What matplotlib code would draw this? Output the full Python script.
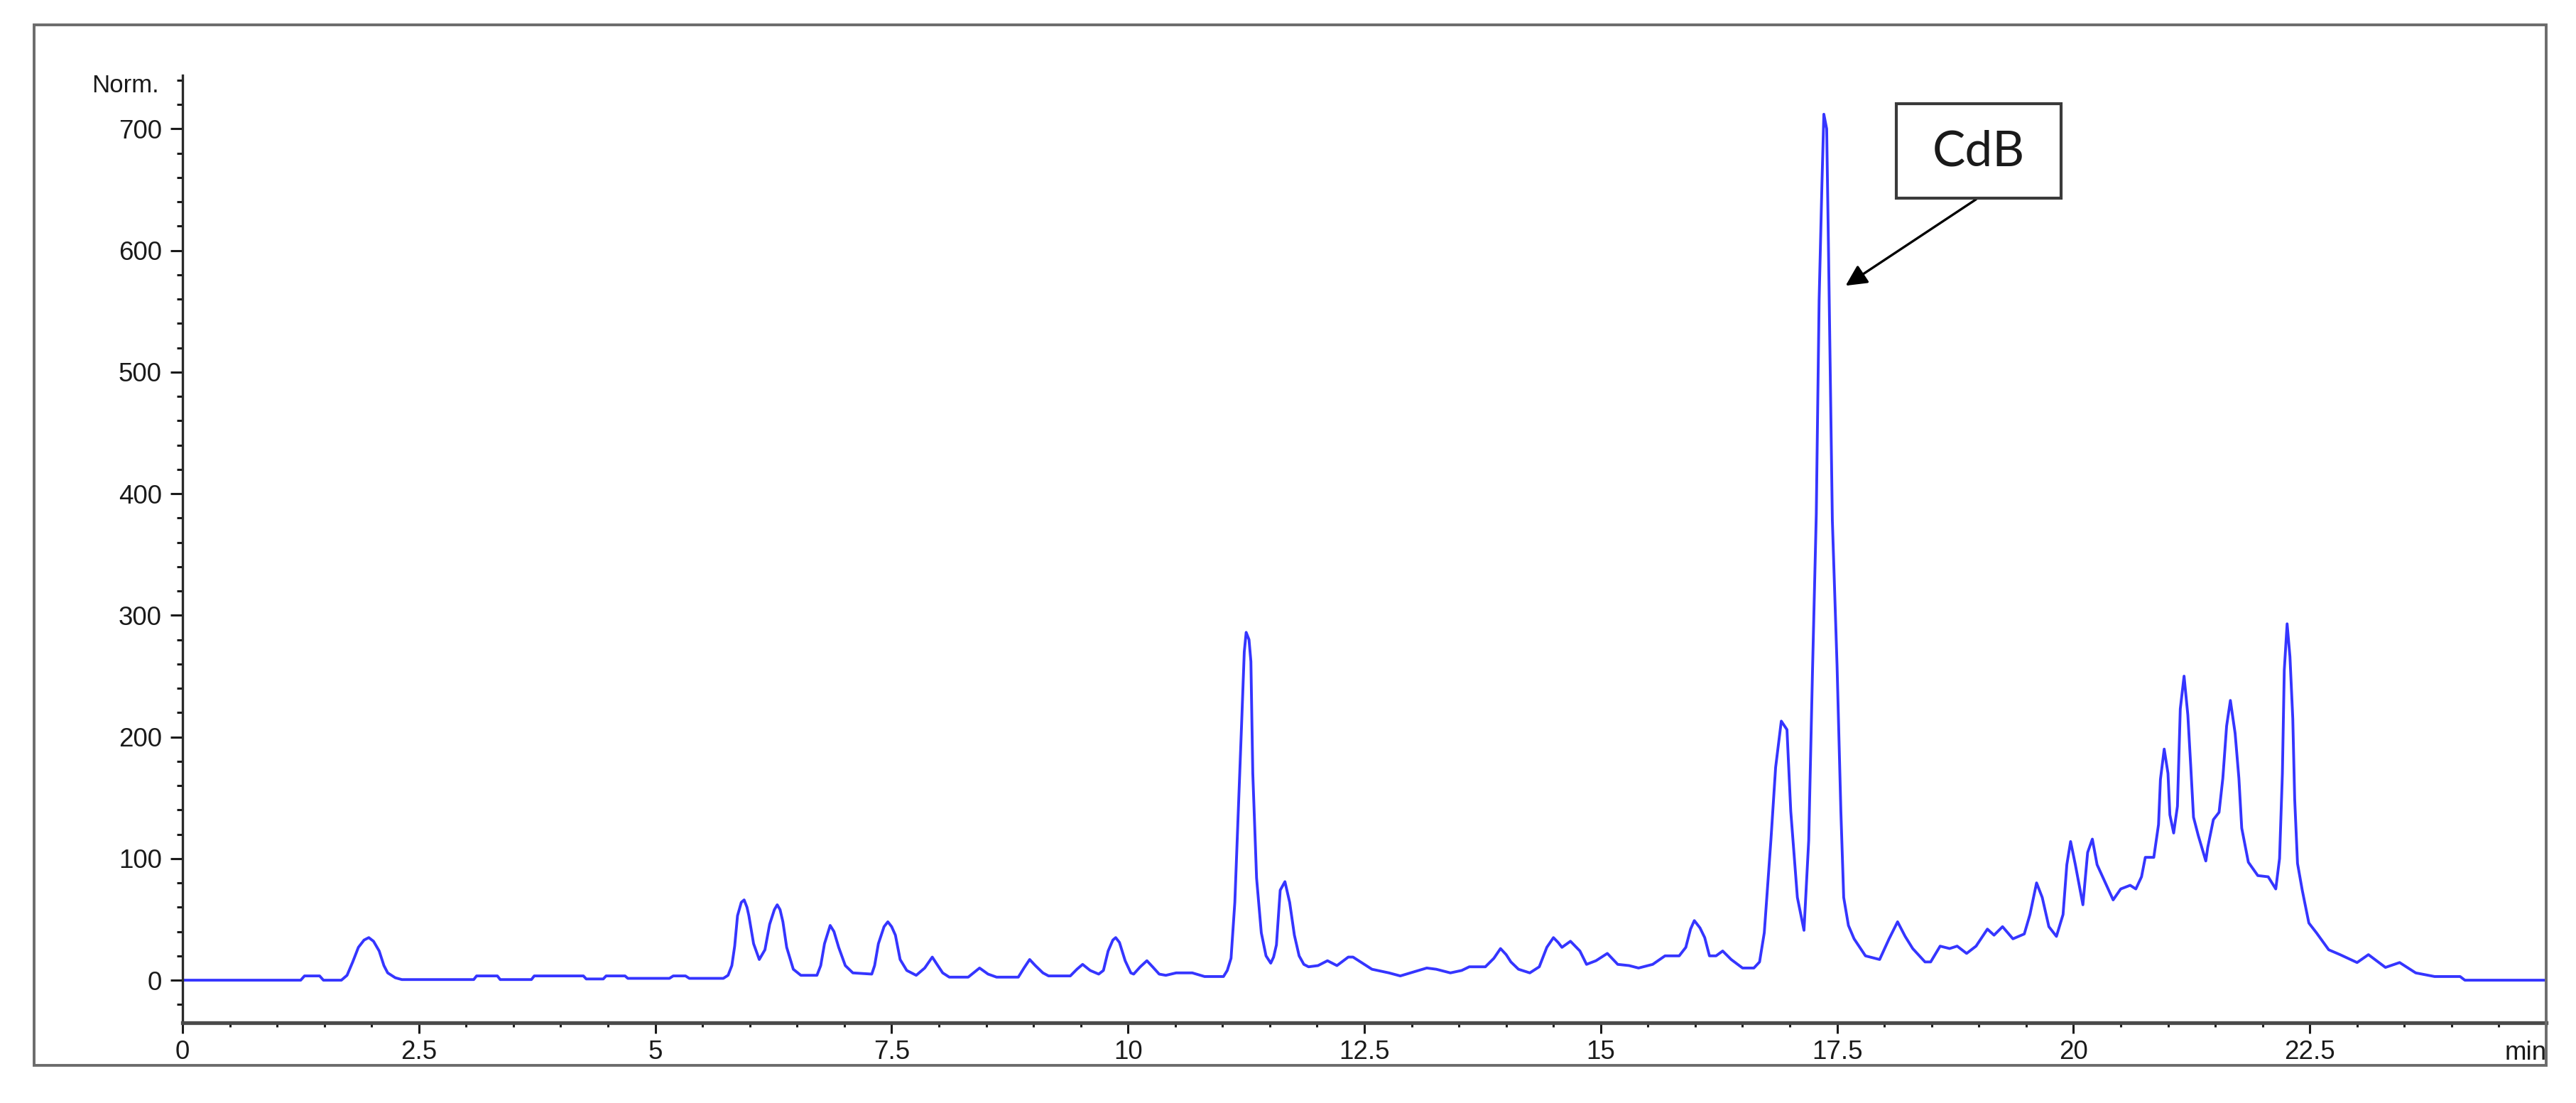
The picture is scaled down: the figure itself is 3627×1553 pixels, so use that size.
import matplotlib.pyplot as plt
from matplotlib.patches import Rectangle
from matplotlib.ticker import MultipleLocator

# retention time (min) and detector signal (Norm.)
retention_min = [
    0.00, 1.25, 1.29, 1.45, 1.49, 1.68, 1.74, 1.80, 1.86, 1.92, 1.97, 2.02, 2.08, 2.13, 2.17, 2.25, 2.32,
    3.08, 3.11, 3.33, 3.36, 3.69, 3.72, 4.24, 4.27, 4.45, 4.48, 4.68, 4.71, 5.15, 5.19, 5.32, 5.36,
    5.72, 5.77, 5.81, 5.84, 5.87, 5.91, 5.94, 5.97, 5.99, 6.04, 6.10, 6.16, 6.21, 6.26, 6.29, 6.32,
    6.35, 6.39, 6.46, 6.54, 6.71, 6.75, 6.79, 6.85, 6.89, 6.94, 7.01, 7.09, 7.29, 7.32, 7.36, 7.42,
    7.46, 7.50, 7.54, 7.59, 7.66, 7.76, 7.85, 7.93, 7.98, 8.04, 8.11, 8.31, 8.43, 8.52, 8.61, 8.84,
    8.90, 8.96, 9.02, 9.10, 9.16, 9.39, 9.46, 9.52, 9.60, 9.69, 9.74, 9.79, 9.84, 9.87, 9.91, 9.97,
    10.03, 10.06, 10.13, 10.20, 10.26, 10.33, 10.40, 10.51, 10.68, 10.81, 11.01, 11.05, 11.09, 11.13,
    11.16, 11.20, 11.23, 11.25, 11.28, 11.30, 11.32, 11.36, 11.41, 11.46, 11.51, 11.54, 11.57, 11.61,
    11.66, 11.71, 11.76, 11.81, 11.86, 11.91, 12.01, 12.11, 12.21, 12.33, 12.38, 12.48, 12.58, 12.76,
    12.88, 13.03, 13.16, 13.26, 13.41, 13.53, 13.61, 13.78, 13.87, 13.94, 14.00, 14.05, 14.13, 14.25,
    14.35, 14.43, 14.50, 14.55, 14.59, 14.68, 14.78, 14.85, 14.95, 15.07, 15.18, 15.30, 15.40, 15.55,
    15.68, 15.83, 15.90, 15.95, 15.99, 16.05, 16.10, 16.15, 16.22, 16.29, 16.38, 16.50, 16.62, 16.68,
    16.73, 16.80, 16.85, 16.91, 16.97, 17.01, 17.08, 17.15, 17.20, 17.24, 17.28, 17.31, 17.34, 17.36,
    17.39, 17.41, 17.45, 17.50, 17.54, 17.57, 17.62, 17.68, 17.80, 17.95, 18.05, 18.14, 18.22, 18.30,
    18.43, 18.49, 18.59, 18.69, 18.77, 18.87, 18.97, 19.09, 19.16, 19.25, 19.36, 19.48, 19.54, 19.61,
    19.67, 19.74, 19.82, 19.89, 19.93, 19.97, 20.02, 20.10, 20.15, 20.20, 20.25, 20.32, 20.42, 20.50,
    20.60, 20.66, 20.72, 20.76, 20.85, 20.90, 20.92, 20.96, 21.00, 21.02, 21.06, 21.10, 21.13, 21.17,
    21.21, 21.24, 21.27, 21.32, 21.40, 21.42, 21.48, 21.54, 21.58, 21.62, 21.66, 21.71, 21.75, 21.78,
    21.85, 21.95, 22.06, 22.14, 22.18, 22.21, 22.23, 22.26, 22.29, 22.32, 22.34, 22.37, 22.42, 22.49,
    22.57, 22.70, 22.82, 23.00, 23.12, 23.30, 23.45, 23.62, 23.82, 24.09, 24.14, 25.00,
]
signal_norm = [
    0, 0, 3.5, 3.5, 0, 0, 4, 15, 27, 33, 35, 32, 24, 12, 6, 2, 0.5,
    0.5, 3.5, 3.5, 0.5, 0.5, 3.5, 3.5, 1, 1, 3.5, 3.5, 1.5, 1.5, 3.5, 3.5, 1.5,
    1.5, 4, 12, 28, 53, 64, 66, 60, 53, 30, 17, 25, 46, 58, 62, 58,
    48, 27, 9, 4, 4, 12, 30, 45, 40, 27, 12, 6, 5, 12, 30, 44,
    48, 44, 37, 17, 8, 4, 10, 19, 13, 6, 2.5, 2.5, 10, 5, 2.5, 2.5,
    10, 17, 12, 6, 3.5, 3.5, 9, 13, 8, 5, 8, 24, 33, 35, 31, 16,
    6, 5, 11, 16, 11, 5, 4, 6, 6, 3, 3, 8, 18, 64,
    125, 207, 270, 286, 280, 262, 170, 84, 39, 20, 14, 19, 29, 74,
    81, 64, 37, 20, 13, 11, 12, 16, 12, 19, 19, 14, 9, 6,
    3.5, 7, 10, 9, 6, 8, 11, 11, 18, 26, 21, 15, 9, 6,
    11, 27, 35, 31, 27, 32, 24, 13, 16, 22, 13, 12, 10, 13,
    20, 20, 27, 42, 49, 43, 35, 20, 20, 24, 17, 10, 10, 15,
    39, 115, 175, 213, 206, 139, 68, 41, 115, 254, 383, 559, 655, 712,
    700, 597, 378, 258, 139, 68, 45, 34, 20, 17, 34, 48, 36, 26,
    15, 15, 28, 26, 28, 22, 28, 42, 37, 44, 34, 38, 54, 80,
    68, 44, 36, 54, 95, 114, 95, 62, 105, 116, 95, 83, 66, 75,
    78, 75, 85, 101, 101, 128, 165, 190, 170, 136, 121, 143, 223, 250,
    218, 177, 134, 119, 98, 109, 132, 138, 166, 209, 230, 203, 166, 125,
    97, 86, 85, 75, 100, 170, 255, 293, 266, 215, 149, 96, 74, 47,
    39, 25, 21, 14.5, 21, 10.5, 14.5, 6, 3, 3, 0, 0,
]

xtick_values = [0, 2.5, 5, 7.5, 10, 12.5, 15, 17.5, 20, 22.5]
xtick_labels = ["0", "2.5", "5", "7.5", "10", "12.5", "15", "17.5", "20", "22.5"]
ytick_values = [0, 100, 200, 300, 400, 500, 600, 700]

plt.rcParams['font.family'] = ['Liberation Sans', 'DejaVu Sans']

fig = plt.figure(figsize=(36.27, 15.53), dpi=100)
ax = fig.add_axes([0.07086, 0.07276, 0.91756, 0.85898])

ax.plot(retention_min, signal_norm, color='#3535ff', lw=2.8)

ax.set_xlim(0, 25)
ax.set_ylim(-35, 744)

ax.set_xticks(xtick_values)
ax.set_xticklabels(xtick_labels)
ax.xaxis.set_minor_locator(MultipleLocator(0.5))
ax.set_yticks(ytick_values)
ax.yaxis.set_minor_locator(MultipleLocator(20))

ax.tick_params(axis='both', which='both', direction='out', colors='#1a1a1a', labelsize=26.5)
ax.tick_params(axis='y', which='major', length=12, width=2.2, pad=9)
ax.tick_params(axis='y', which='minor', length=5.5, width=2.2)
ax.tick_params(axis='x', which='major', length=11, width=2.2, pad=6)
ax.tick_params(axis='x', which='minor', length=4.5, width=2.2)

ax.spines['top'].set_visible(False)
ax.spines['right'].set_visible(False)
ax.spines['left'].set_color('#2a2a2a')
ax.spines['left'].set_linewidth(2.4)
ax.spines['bottom'].set_color('#4a4a4a')
ax.spines['bottom'].set_linewidth(3.8)

# axis captions as the data system prints them
fig.text(224 / 3627, 1 - 120 / 1553, "Norm.", ha='right', va='center', fontsize=25, color='#1a1a1a')
fig.text(3586 / 3627, 1 - 1483 / 1553, "min", ha='right', va='center', fontsize=26.5, color='#1a1a1a')

# outer frame of the printout
fig.add_artist(Rectangle((0.0132, 0.0341), 0.9884 - 0.0132, 0.9775 - 0.0341,
                         transform=fig.transFigure, fill=False, edgecolor='#6b6b6b', lw=2.8))

# CdB label box and arrow
ax.add_patch(Rectangle((18.13, 643), 1.74, 77.5, fill=False, edgecolor='#3a3a3a', lw=3, zorder=5))
ax.text(19.0, 681, "CdB", ha='center', va='center', fontsize=50, family=['Lato', 'DejaVu Sans'], color='#1a1a1a')
ax.annotate('', xy=(17.59, 571), xytext=(18.97, 642),
            arrowprops=dict(arrowstyle='-|>', color='black', lw=2.4, mutation_scale=45, shrinkA=0, shrinkB=0))

fig.savefig('out.png', dpi=100)
